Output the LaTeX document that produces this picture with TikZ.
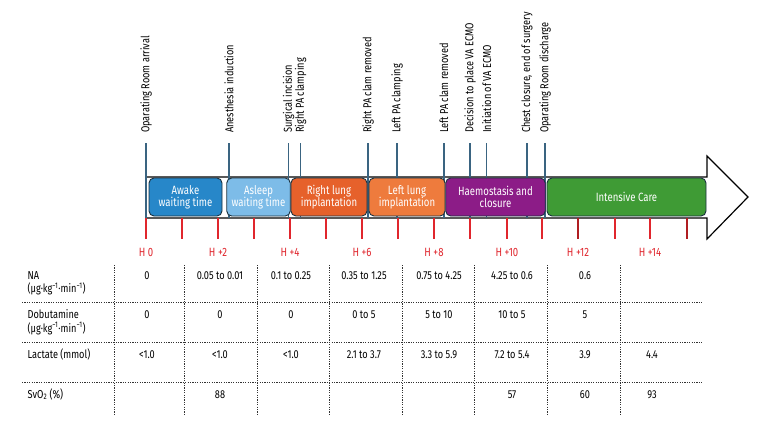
\documentclass[tikz,border=0pt]{standalone}
\usepackage{fontspec}
\setmainfont{Fira Sans}[FakeStretch=0.8]
\begin{document}
\begin{tikzpicture}[x=1pt,y=-1pt,
  evline/.style={draw=evblue,line width=1.3pt},
  evlabel/.style={rotate=90,anchor=west,inner sep=0pt,font=\fontsize{11.5}{13}\selectfont},
  stagebox/.style={draw=boxborder,line width=0.9pt,rounded corners=5pt,text=white,align=center,font=\fontsize{12}{13}\selectfont},
  hourtick/.style={draw=tickred,line width=1.2pt},
  hourlabel/.style={text=tickred,inner sep=0pt,anchor=base,font=\fontsize{12}{13}\selectfont},
  tabline/.style={draw=black!80,line width=0.7pt,dash pattern=on 1.2pt off 1.2pt},
  rowlabel/.style={anchor=base west,inner sep=0pt,font=\fontsize{11.5}{13}\selectfont},
  val/.style={anchor=base,inner sep=0pt,font=\fontsize{11.5}{13}\selectfont}
]
\definecolor{evblue}{HTML}{3A6481}
\definecolor{boxborder}{HTML}{1B3240}
\definecolor{tickred}{HTML}{E0262D}
\definecolor{tickdark}{HTML}{B01E22}
\definecolor{cAwake}{HTML}{2787C9}
\definecolor{cAsleep}{HTML}{7DBCE8}
\definecolor{cRight}{HTML}{E6612B}
\definecolor{cLeft}{HTML}{EE7B3D}
\definecolor{cHaem}{HTML}{8C1C87}
\definecolor{cIcu}{HTML}{3F9B35}
\useasboundingbox[fill=white] (0,0) rectangle (780,432);

% timeline arrow
\draw[line width=1.2pt,fill=white] (146,177) -- (707,177) -- (707,156) -- (748,197) -- (707,239) -- (707,218) -- (146,218) -- cycle;
\coordinate (shafttop) at (146,177);
\coordinate (shaftbot) at (146,218);

% event lines and labels
\foreach \n/\x/\t in {e1/146/Oparating Room arrival, e2/229/Anesthesia induction, e3/288.7/Surgical incision, e4/300.5/Right PA clamping, e5/368/Right PA clam removed, e6/397/Left PA clamping, e7/444/Left PA clam removed, e8/470/Decision to place VA ECMO, e9/486.7/Initiation of  VA ECMO, e10/527/{Chest closure, end of surgery}, e11/545/Oparating Room discharge}{
  \node[evlabel] (\n) at (\x,133) {\t};
  \coordinate (\n top) at (\x,143);
  \draw[evline] (\n top) -- (\n top |- shaftbot);
}

% stage boxes
\node[stagebox,fill=cAwake,minimum width=73pt,minimum height=38pt] (awake) at (185.5,197) {Awake\\[-1pt]waiting time};
\node[stagebox,fill=cAsleep,minimum width=63.5pt,minimum height=38pt] (asleep) at (258.5,197) {Asleep\\[-1pt]waiting time};
\node[stagebox,fill=cRight,minimum width=76pt,minimum height=38pt] (right) at (329,197) {Right lung\\[-1pt]implantation};
\node[stagebox,fill=cLeft,minimum width=76pt,minimum height=38pt] (left) at (407,197) {Left lung\\[-1pt]implantation};
\node[stagebox,fill=cHaem,minimum width=99.5pt,minimum height=38pt] (haem) at (495.5,197) {Haemostasis and\\[-1pt]closure};
\node[stagebox,fill=cIcu,minimum width=159pt,minimum height=38pt] (icu) at (626.5,197) {Intensive Care};

% hour ticks
\foreach \x/\c [count=\i] in {146/tickred,182/tickred,218/tickred,254/tickred,290/tickred,326/tickred,362/tickred,398/tickred,434/tickred,470/tickred,507/tickred,542/tickred,578/tickdark,615/tickred,650/tickred,687/tickdark}{
  \coordinate (tk\i) at (\x,218);
  \draw[hourtick,draw=\c] (tk\i) -- ++(0,21);
}
\foreach \x/\t [count=\i] in {146/H 0,218/H +2,290/H +4,362/H +6,434/H +8,507/H +10,578/H +12,650/H +14}{
  \node[hourlabel] (hl\i) at (\x,256) {\t};
}

% table grid
\foreach \y [count=\i] in {302,342,382.7}{
  \coordinate (hA\i) at (22,\y);
  \coordinate (hB\i) at (703,\y);
  \draw[tabline] (hA\i) -- (hB\i);
}
\foreach \x [count=\i] in {114,184,257,329,402,474,547,620}{
  \coordinate (vA\i) at (\x,265);
  \coordinate (vB\i) at (\x,414);
  \draw[tabline] (vA\i) -- (vB\i);
}

% row labels
\node[rowlabel] (rNA) at (27.5,279) {NA};
\node[rowlabel] (rNAu) at (27.5,292.5) {(µg·kg\textsuperscript{−1}·min\textsuperscript{−1})};
\node[rowlabel] (rDob) at (27.5,318.5) {Dobutamine};
\node[rowlabel] (rDobu) at (27.5,332) {(µg·kg\textsuperscript{−1}·min\textsuperscript{−1})};
\node[rowlabel] (rLac) at (27.5,358) {Lactate (mmol)};
\node[rowlabel] (rSv) at (27.5,398) {SvO\textsubscript{2} (\%)};

% values
\foreach \x/\t [count=\i] in {147/0,220/0.05 to 0.01,291/0.1 to 0.25,364/0.35 to 1.25,439/0.75 to 4.25,512/4.25 to 0.6,585/0.6}{
  \node[val] (na\i) at (\x,279) {\t};
}
\foreach \x/\t [count=\i] in {147/0,220/0,291/0,364/0 to 5,439/5 to 10,512/10 to 5,585/5}{
  \node[val] (db\i) at (\x,318.5) {\t};
}
\foreach \x/\t [count=\i] in {147/<1.0,220/<1.0,291/<1.0,364/2.1 to 3.7,439/3.3 to 5.9,512/7.2 to 5.4,585/3.9,652/4.4}{
  \node[val] (lc\i) at (\x,358) {\t};
}
\foreach \x/\t [count=\i] in {220/88,512/57,585/60,652/93}{
  \node[val] (sv\i) at (\x,398) {\t};
}
\end{tikzpicture}
\end{document}
